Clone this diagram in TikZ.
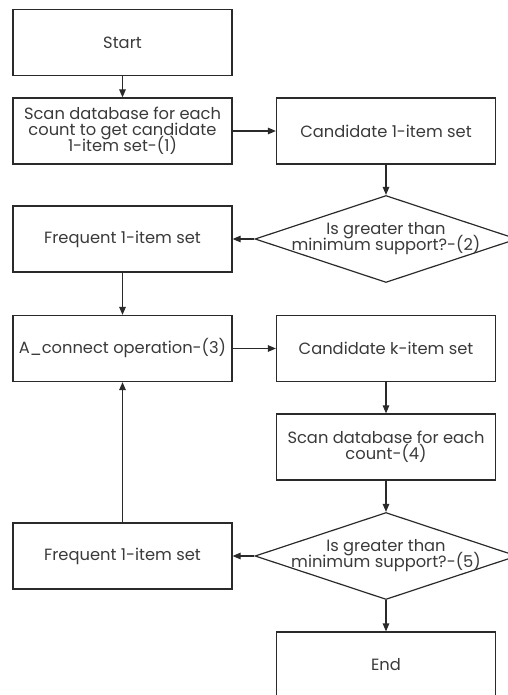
\documentclass[tikz,border=0pt]{standalone}
\usepackage{fontspec}
\setmainfont{Poppins}
\usetikzlibrary{shapes.geometric, arrows.meta}
\definecolor{linegray}{HTML}{2A2A2A}
\definecolor{textgray}{HTML}{3A3A3A}
\newcommand\flowfont{\fontsize{16.3}{16}\selectfont\lineskiplimit=-20pt\relax}

\begin{document}
\begin{tikzpicture}[x=1pt, y=-1pt,
    box/.style={draw=linegray, line width=1.2pt, minimum width=219pt, minimum height=66pt,
        align=center, text=textgray, font=\flowfont},
    decision/.style={diamond, draw=linegray, line width=1.2pt, minimum width=262pt,
        minimum height=87pt, inner sep=0pt},
    qtext/.style={align=center, text=textgray, font=\flowfont},
    arrow/.style={-{Triangle[length=8pt, width=6.5pt]}, draw=linegray, line width=1.2pt}]

    \useasboundingbox (0,0) rectangle (507,695);

    % left column
    \node[box] (start) at (122.5, 42.5) {Start};
    \node[box] (scan1) at (122.5, 131) {Scan database for each\\count to get candidate\\1-item set-(1)};
    \node[box] (freq1) at (122.5, 239) {Frequent 1-item set};
    \node[box] (connect) at (122.5, 348.5) {A\_connect operation-(3)};
    \node[box] (freqk) at (122.5, 556) {Frequent 1-item set};

    % right column
    \node[box] (cand1) at (386, 131) {Candidate 1-item set};
    \node[decision, label={[qtext]center:Is greater than\\minimum support?-(2)}] (test1) at (386, 239) {};
    \node[box] (candk) at (386, 348.5) {Candidate k-item set};
    \node[box] (scan4) at (386, 447) {Scan database for each\\count-(4)};
    \node[decision, label={[qtext]center:Is greater than\\minimum support?-(5)}] (test2) at (386, 556) {};
    \node[box] (end) at (386, 665) {End};

    % connectors
    \draw[arrow] (start) -- (scan1);
    \draw[arrow] (scan1) -- (cand1);
    \draw[arrow] (cand1) -- (test1);
    \draw[arrow] (test1) -- (freq1);
    \draw[arrow] (freq1) -- (connect);
    \draw[arrow] (connect) -- (candk);
    \draw[arrow] (candk) -- (scan4);
    \draw[arrow] (scan4) -- (test2);
    \draw[arrow] (test2) -- (freqk);
    \draw[arrow] (test2) -- (end);
    \draw[arrow] (freqk) -- (connect);

\end{tikzpicture}
\end{document}
